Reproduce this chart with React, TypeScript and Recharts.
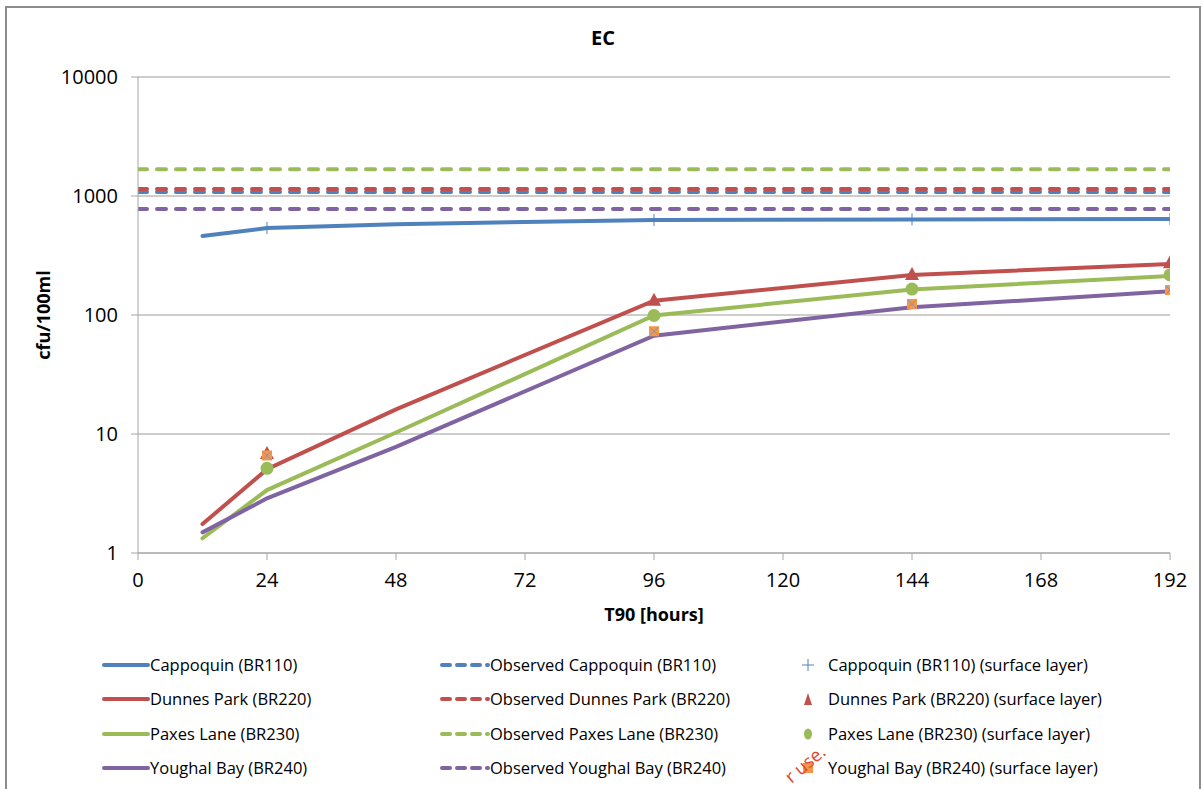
import React from 'react';
import { ComposedChart, Line, Scatter, XAxis, YAxis, CartesianGrid } from 'recharts';

const hours = [12, 24, 48, 96, 144, 192];
const cappoquin = [461, 538, 580, 629, 636, 640];
const dunnesPark = [1.75, 5.05, 16.1, 132, 217, 268];
const paxesLane = [1.33, 3.38, 10.3, 99, 164, 213];
const youghalBay = [1.49, 2.88, 7.8, 67, 116, 158];

const observedHours = [0, 192];
const observedCappoquin = 1081;
const observedDunnesPark = 1145;
const observedPaxesLane = 1676;
const observedYoughalBay = 778;

const surfaceHours = [24, 96, 144, 192];
const cappoquinSurface = [538, 629, 636, 640];
const dunnesParkSurface = [6.8, 132, 217, 272];
const paxesLaneSurface = [5.15, 99, 165, 217];
const youghalBaySurface = [6.6, 73, 124, 162];

const xTicks = [0, 24, 48, 72, 96, 120, 144, 168, 192];
const yTicks = [1, 10, 100, 1000, 10000];

const BLUE = '#4F81BD';
const RED = '#C0504D';
const GREEN = '#9BBB59';
const PURPLE = '#8064A2';
const ORANGE = '#F79646';
const FONT = '"Open Sans", "Liberation Sans", sans-serif';

const toPoints = (xs: number[], ys: number[]) => xs.map((x, i) => ({ x, y: ys[i] }));
const flat = (value: number) => observedHours.map(x => ({ x, y: value }));

const PlusMark = ({ cx, cy }: any) => (
  <path d={`M${cx - 6},${cy}H${cx + 6}M${cx},${cy - 6}V${cy + 6}`} stroke={BLUE} strokeWidth={1} fill="none" />
);
const TriangleMark = ({ cx, cy }: any) => (
  <polygon points={`${cx},${cy - 8} ${cx - 7},${cy + 5} ${cx + 7},${cy + 5}`} fill={RED} />
);
const CircleMark = ({ cx, cy }: any) => <circle cx={cx} cy={cy} r={6.5} fill={GREEN} />;
const SquareMark = ({ cx, cy }: any) => (
  <g>
    <rect x={cx - 5} y={cy - 5} width={10} height={10} fill={ORANGE} />
    <path d={`M${cx - 4},${cy - 4}L${cx + 4},${cy + 4}M${cx + 4},${cy - 4}L${cx - 4},${cy + 4}`} stroke="#8A8FB5" strokeWidth={1} />
  </g>
);

const legendNames = ['Cappoquin (BR110)', 'Dunnes Park (BR220)', 'Paxes Lane (BR230)', 'Youghal Bay (BR240)'];
const legendColors = [BLUE, RED, GREEN, PURPLE];

function LegendMarker({ row }: { row: number }) {
  if (row === 0) return <path d="M8,2V14M2,8H14" stroke={BLUE} strokeWidth={1} />;
  if (row === 1) return <polygon points="8,2 4,14 12,14" fill={RED} />;
  if (row === 2) return <ellipse cx={8} cy={8} rx={4} ry={5.5} fill={GREEN} />;
  return <rect x={3} y={3} width={10} height={10} fill={ORANGE} />;
}

function ChartLegend() {
  const rowY = (i: number) => 665 + i * 34.3;
  const text: React.CSSProperties = { position: 'absolute', fontSize: 16.5, lineHeight: '20px', color: '#000', whiteSpace: 'nowrap' };
  return (
    <>
      {legendNames.map((name, i) => (
        <React.Fragment key={name}>
          <svg style={{ position: 'absolute', left: 101, top: rowY(i) - 8 }} width={50} height={16}>
            <line x1={3} y1={8} x2={47} y2={8} stroke={legendColors[i]} strokeWidth={4} strokeLinecap="round" />
          </svg>
          <div style={{ ...text, left: 150, top: rowY(i) - 10 }}>{name}</div>
          <svg style={{ position: 'absolute', left: 438, top: rowY(i) - 8 }} width={52} height={16}>
            <line x1={4} y1={8} x2={50} y2={8} stroke={legendColors[i]} strokeWidth={4} strokeLinecap="round" strokeDasharray="8 7" />
          </svg>
          <div style={{ ...text, left: 490, top: rowY(i) - 10 }}>Observed {name}</div>
          <svg style={{ position: 'absolute', left: 800, top: rowY(i) - 8 }} width={16} height={16}>
            <LegendMarker row={i} />
          </svg>
          <div style={{ ...text, left: 828, top: rowY(i) - 10 }}>{name} (surface layer)</div>
        </React.Fragment>
      ))}
    </>
  );
}

export default function App() {
  const lineProps = { type: 'linear' as const, dataKey: 'y', dot: false, activeDot: false, strokeWidth: 4, strokeLinecap: 'round' as const, isAnimationActive: false };
  const dashProps = { ...lineProps, strokeDasharray: '9 10' };

  return (
    <div style={{ position: 'absolute', left: 0, top: 0, width: 1203, height: 789, overflow: 'hidden', background: '#fff', fontFamily: FONT }}>
      <div style={{ position: 'absolute', left: 5, top: 6, width: 1192, height: 900, border: '2px solid #8C8C8C' }} />
      <div style={{ position: 'absolute', left: 0, width: 1206, top: 24, textAlign: 'center', fontSize: 20, fontWeight: 700 }}>EC</div>
      <ComposedChart width={1203} height={789} margin={{ top: 77, right: 33, bottom: 206, left: 78 }} style={{ fontFamily: FONT }}>
        <CartesianGrid vertical={false} stroke="#BDBDBD" strokeWidth={1.3} />
        <XAxis
          type="number"
          dataKey="x"
          domain={[0, 192]}
          ticks={xTicks}
          allowDataOverflow
          height={30}
          stroke="#A6A6A6"
          tickSize={7}
          tickMargin={13}
          tick={{ fill: '#000', fontSize: 20 }}
          label={{
            content: ({ viewBox }: any) => (
              <text x={viewBox.x + viewBox.width / 2} y={621} textAnchor="middle" fontSize={18} fontWeight={700} fill="#000">
                T90 [hours]
              </text>
            ),
          }}
        />
        <YAxis
          type="number"
          scale="log"
          domain={[1, 10000]}
          ticks={yTicks}
          allowDataOverflow
          width={60}
          stroke="#A6A6A6"
          tickSize={7}
          tickMargin={13}
          tick={{ fill: '#000', fontSize: 20 }}
          label={{
            content: ({ viewBox }: any) => {
              const cx = 50;
              const cy = viewBox.y + viewBox.height / 2;
              return (
                <text x={cx} y={cy} transform={`rotate(-90 ${cx} ${cy})`} textAnchor="middle" fontSize={18} fontWeight={700} fill="#000">
                  cfu/100ml
                </text>
              );
            },
          }}
        />
        <Line {...dashProps} data={flat(observedCappoquin)} stroke={BLUE} name="Observed Cappoquin (BR110)" />
        <Line {...dashProps} data={flat(observedDunnesPark)} stroke={RED} name="Observed Dunnes Park (BR220)" />
        <Line {...dashProps} data={flat(observedPaxesLane)} stroke={GREEN} name="Observed Paxes Lane (BR230)" />
        <Line {...dashProps} data={flat(observedYoughalBay)} stroke={PURPLE} name="Observed Youghal Bay (BR240)" />
        <Line {...lineProps} data={toPoints(hours, cappoquin)} stroke={BLUE} name="Cappoquin (BR110)" />
        <Line {...lineProps} data={toPoints(hours, dunnesPark)} stroke={RED} name="Dunnes Park (BR220)" />
        <Line {...lineProps} data={toPoints(hours, paxesLane)} stroke={GREEN} name="Paxes Lane (BR230)" />
        <Line {...lineProps} data={toPoints(hours, youghalBay)} stroke={PURPLE} name="Youghal Bay (BR240)" />
        <Scatter data={toPoints(surfaceHours, cappoquinSurface)} dataKey="y" shape={PlusMark} isAnimationActive={false} />
        <Scatter data={toPoints(surfaceHours, dunnesParkSurface)} dataKey="y" shape={TriangleMark} isAnimationActive={false} />
        <Scatter data={toPoints(surfaceHours, paxesLaneSurface)} dataKey="y" shape={CircleMark} isAnimationActive={false} />
        <Scatter data={toPoints(surfaceHours, youghalBaySurface)} dataKey="y" shape={SquareMark} isAnimationActive={false} />
      </ComposedChart>
      <ChartLegend />
      <svg style={{ position: 'absolute', left: 0, top: 0, pointerEvents: 'none' }} width={1203} height={789}>
        <text x={827} y={754} textAnchor="end" fontSize={18} fill="#E2452F" transform="rotate(-40 827 754)">
          r use.
        </text>
      </svg>
    </div>
  );
}
